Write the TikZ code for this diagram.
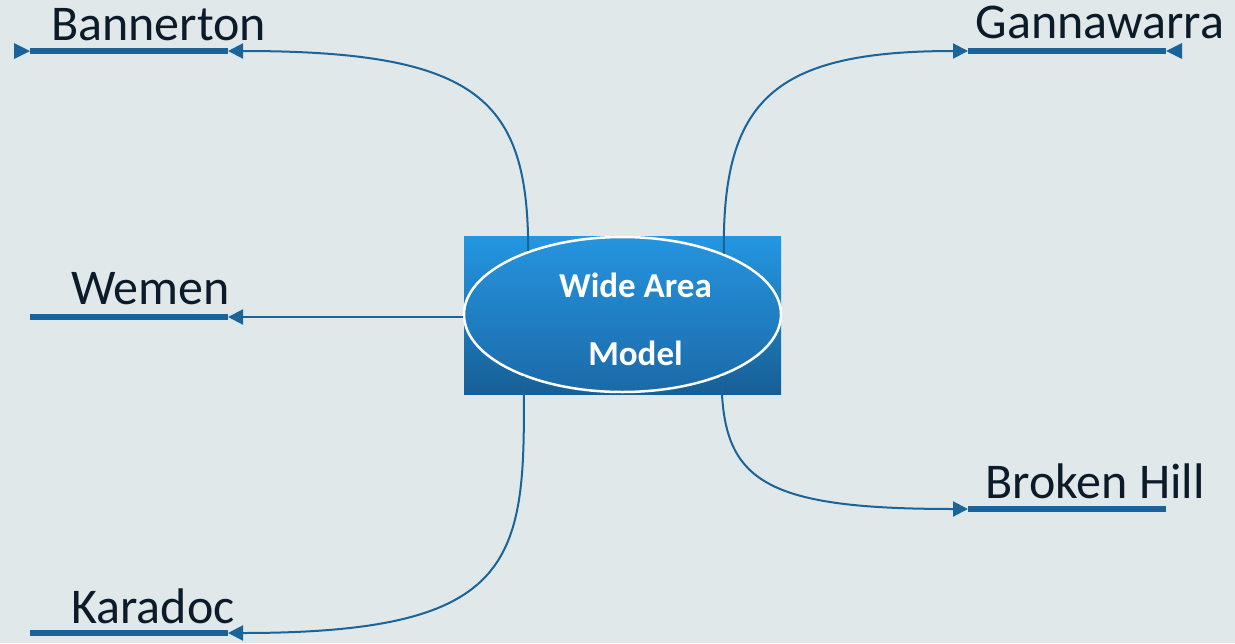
\documentclass[tikz,border=0pt]{standalone}
\usepackage{fontspec}
\setmainfont{Carlito}
\usetikzlibrary{arrows.meta,shapes.geometric}
\definecolor{bgc}{RGB}{224,232,234}
\definecolor{linec}{RGB}{26,100,153}
\definecolor{barc}{RGB}{25,99,154}
\definecolor{txtc}{RGB}{12,27,42}
\definecolor{rtop}{RGB}{36,151,226}
\definecolor{rbot}{RGB}{23,95,150}
\definecolor{etop}{RGB}{38,148,223}
\definecolor{ebot}{RGB}{27,106,168}
\tikzset{
  lbl/.style={anchor=base, text=txtc, inner sep=0pt, font=\fontsize{50}{60}\selectfont},
  ctext/.style={anchor=base, text=white, inner sep=0pt, font=\bfseries\fontsize{35}{40}\selectfont},
  barline/.style={draw=barc, line width=6pt},
  conn/.style={draw=linec, line width=2pt, -{Triangle[length=15pt,width=15pt]}},
  endtri/.style={fill=barc},
}
\begin{document}
\begin{tikzpicture}[x=1pt,y=-1pt]
\fill[bgc] (0,0) rectangle (1235,643);
\useasboundingbox (0,0) rectangle (1235,643);
% central block
\node[rectangle, minimum width=317pt, minimum height=158pt, inner sep=0pt,
      top color=rtop, bottom color=rbot] (box) at (622.5,315) {};
\node[ellipse, minimum width=317pt, minimum height=155pt, inner sep=0pt,
      draw=white, line width=2.5pt, top color=etop, bottom color=ebot] (wam) at (622.5,314.5) {};
\node[ctext] (t1) at (635.5,297) {Wide Area};
\node[ctext] (t2) at (635.5,365) {Model};
% bar endpoints
\coordinate (bL) at (30,51);   \coordinate (bR) at (228,51);
\coordinate (wL) at (30,317);  \coordinate (wR) at (228,317);
\coordinate (kL) at (30,633);  \coordinate (kR) at (228,633);
\coordinate (gL) at (968,51);  \coordinate (gR) at (1166,51);
\coordinate (hL) at (968,509); \coordinate (hR) at (1166,509);
% bars
\draw[barline] (bL) -- (bR);
\draw[barline] (wL) -- (wR);
\draw[barline] (kL) -- (kR);
\draw[barline] (gL) -- (gR);
\draw[barline] (hL) -- (hR);
\fill[endtri] (bL) -- ++(-16,-8) -- ++(0,16) -- cycle;
\fill[endtri] (gR) -- ++(16,-8) -- ++(0,16) -- cycle;
% labels
\node[lbl] (ban) at (158.5,40) {Bannerton};
\node[lbl] (wem) at (150.5,304) {Wemen};
\node[lbl] (kar) at (153,623) {Karadoc};
\node[lbl] (gan) at (1100,38) {Gannawarra};
\node[lbl] (bro) at (1095,498) {Broken Hill};
% connectors
\draw[conn] (wam.146.6) .. controls (528,100) and (480,51) .. (bR);
\draw[conn] (wam.31.2) .. controls (722,100) and (773,51) .. (gL);
\draw[conn] (wam.west |- wR) -- (wR);
\draw[conn] (wam.212.5) .. controls (526,560) and (521,633) .. (kR);
\draw[conn] (wam.328.8) .. controls (722,480) and (760,509) .. (hL);
\end{tikzpicture}
\end{document}
